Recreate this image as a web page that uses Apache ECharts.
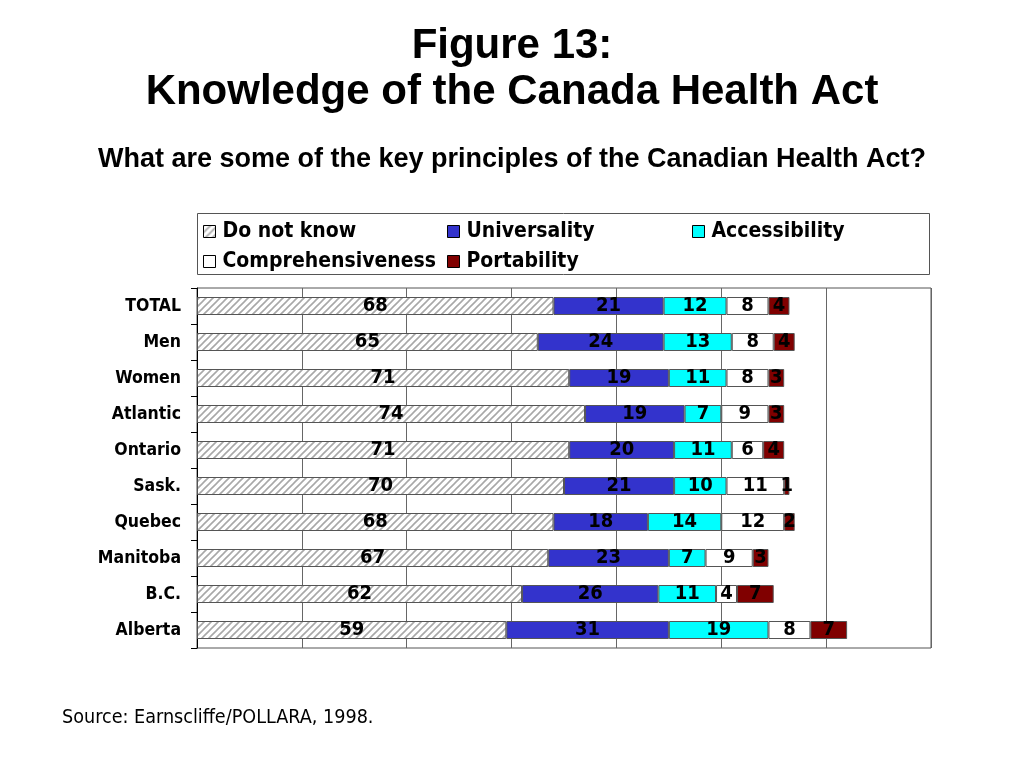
<!DOCTYPE html>
<html><head><meta charset="utf-8">
<script src="https://cdn.jsdelivr.net/npm/echarts@6/dist/echarts.min.js"></script>
<style>html,body{margin:0;padding:0;background:#fff}#c{width:1024px;height:768px}</style>
</head><body><div id="c"></div>
<script>
const categories = ['TOTAL','Men','Women','Atlantic','Ontario','Sask.','Quebec','Manitoba','B.C.','Alberta'];
const doNotKnow = [68,65,71,74,71,70,68,67,62,59];
const universality = [21,24,19,19,20,21,18,23,26,31];
const accessibility = [12,13,11,7,11,10,14,7,11,19];
const comprehensiveness = [8,8,8,9,6,11,12,9,4,8];
const portability = [4,4,3,3,4,1,2,3,7,7];
const seriesNames = ['Do not know','Universality','Accessibility','Comprehensiveness','Portability'];

const FONT = '"DejaVu Sans Condensed", "DejaVu Sans"';
// hatch pattern
const S = 7;
const pc = document.createElement('canvas');
pc.width = S; pc.height = S;
const g = pc.getContext('2d');
g.fillStyle = '#ffffff'; g.fillRect(0,0,S,S);
g.strokeStyle = '#a8a8a8'; g.lineWidth = 1.6;
g.beginPath();
g.moveTo(0,S); g.lineTo(S,0);
g.moveTo(-1,1); g.lineTo(1,-1);
g.moveTo(S-1,S+1); g.lineTo(S+1,S-1);
g.stroke();
const hatch = {image: pc, repeat: 'repeat'};

const colors = [hatch, '#3333CC', '#00FFFF', '#FFFFFF', '#800000'];
const values = [doNotKnow, universality, accessibility, comprehensiveness, portability];

const chart = echarts.init(document.getElementById('c'));
const legendPos = [[203,221],[447,221],[692,221],[203,251],[447,251]];
chart.setOption({
  animation: false,
  backgroundColor: '#fff',
  title: [
    {text: 'Figure 13:\nKnowledge of the Canada Health Act', left: 'center', top: 18,
     textStyle: {fontFamily: 'Liberation Sans', fontWeight: 'bold', fontSize: 42, lineHeight: 46, color: '#000'}},
    {text: 'What are some of the key principles of the Canadian Health Act?', left: 'center', top: 141,
     textStyle: {fontFamily: 'Liberation Sans', fontWeight: 'bold', fontSize: 27, color: '#000'}}
  ],
  legend: seriesNames.map((n,i)=>({
    data: [n], left: legendPos[i][0], top: legendPos[i][1], padding: 0,
    itemWidth: 12, itemHeight: 12, icon: 'rect',
    itemStyle: {borderColor: '#000', borderWidth: 1},
    textStyle: {fontFamily: FONT, fontWeight: 'bold', fontSize: 21, color: '#000', padding: [0,0,0,2]},
    selectedMode: false
  })),
  graphic: [
    {type: 'rect', shape: {x: 197.5, y: 213.5, width: 732, height: 61}, style: {fill: 'none', stroke: '#555', lineWidth: 1}},
    {type: 'text', left: 62, top: 708, style: {text: 'Source: Earnscliffe/POLLARA, 1998.', fontFamily: FONT, fontSize: 19.6, fill: '#000'}}
  ],
  grid: {left: 197, right: 93, top: 288, bottom: 120, show: true, borderColor: '#555', borderWidth: 1, containLabel: false},
  xAxis: {type: 'value', min: 0, max: 140, interval: 20,
    axisLabel: {show: false}, axisTick: {show: false}, axisLine: {show: false},
    splitLine: {show: true, lineStyle: {color: '#666', width: 1}}},
  yAxis: {type: 'category', data: categories, inverse: true,
    axisLine: {show: true, lineStyle: {color: '#000', width: 1}},
    axisTick: {show: true, length: 6, lineStyle: {color: '#000'}},
    axisLabel: {fontFamily: FONT, fontWeight: 'bold', fontSize: 17.5, color: '#000', margin: 16, padding: [3,0,0,0]}},
  series: seriesNames.map((n,i)=>({
    name: n, type: 'bar', stack: 'all', data: values[i], barWidth: 18,
    itemStyle: {color: colors[i], borderColor: '#555', borderWidth: 1},
    label: {show: true, position: 'inside', formatter: '{c}', fontFamily: FONT, fontWeight: 'bold', fontSize: 20, color: '#000', textBorderWidth: 0}
  }))
});
</script></body></html>
